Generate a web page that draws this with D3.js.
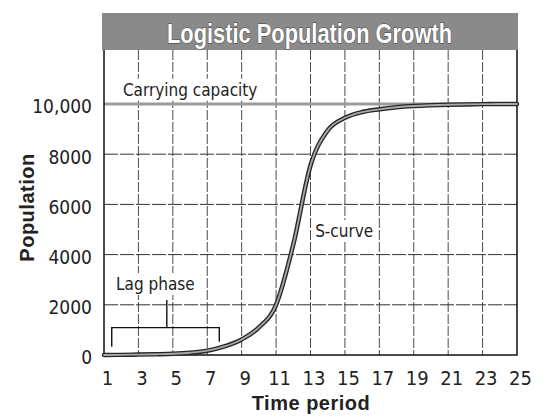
<!DOCTYPE html>
<html>
<head>
<meta charset="utf-8">
<script src="https://cdn.jsdelivr.net/npm/d3@7"></script>
<style>
  body { margin: 0; background: #fff; }
  svg { display: block; }
</style>
</head>
<body>
<div class="chart"></div>
<script>
(function() {

  // Chart Data
  var timePeriods = [1, 2, 3, 4, 5, 6, 7, 8, 9, 10, 11, 12, 13, 14, 15, 16, 17, 18, 19, 20, 21, 22, 23, 24, 25];
  var population = [0, 5, 15, 30, 50, 90, 170, 340, 620, 1100, 2000, 4400, 7550, 8950, 9450, 9680, 9790, 9870, 9920, 9950, 9970, 9985, 9995, 10000, 10000];
  var xTickValues = [1, 3, 5, 7, 9, 11, 13, 15, 17, 19, 21, 23, 25];
  var yTickValues = [0, 2000, 4000, 6000, 8000, 10000];
  var carryingCapacity = 10000;

  // Labels
  var title = "Logistic Population Growth";
  var xTitle = "Time period";
  var yTitle = "Population";
  var notes = [
    {text: "Carrying capacity", t: 2.1, p: 10330},
    {text: "Lag phase", t: 1.7, p: 2590},
    {text: "S-curve", t: 13.27, p: 4700}
  ];
  // lag phase bracket, in data units
  var lagBracket = {t0: 1.45, t1: 7.7, top: 1090, left: 330, right: 530, mid: 4.65, tick: 2190};

  // Design Variables
  var width = 543;
  var height = 417;
  var plot = {left: 104, right: 517, top: 50, bottom: 355};
  var thinFont = "'Liberation Sans Narrow', 'DejaVu Sans Condensed', 'Liberation Sans', sans-serif";
  var boldFont = "'Liberation Sans', Arial, sans-serif";
  var ink = "#222";

  // Scales
  var x = d3.scaleLinear()
    .domain([1, 25])
    .range([plot.left, plot.right]);

  var y = d3.scaleLinear()
    .domain([0, 10000])
    .range([plot.bottom, 104]);

  var svg = d3.select(".chart").append("svg")
      .attr("width", width)
      .attr("height", height);

  // Title bar
  svg.append("rect")
      .attr("x", 102)
      .attr("y", 13)
      .attr("width", 416)
      .attr("height", 37)
      .attr("fill", "#8a8a8a");

  svg.append("text")
      .attr("x", 167)
      .attr("y", 43)
      .attr("font-family", boldFont)
      .attr("font-weight", "bold")
      .attr("font-size", 27)
      .attr("textLength", 285)
      .attr("lengthAdjust", "spacingAndGlyphs")
      .attr("fill", "#fff")
      .attr("stroke", "#444")
      .attr("stroke-width", 1)
      .attr("paint-order", "stroke")
      .text(title);

  // Grid
  var grid = svg.append("g").attr("class", "grid");

  grid.selectAll(".vline")
      .data(xTickValues.filter(function(d) { return d > 1 && d < 25; }))
      .enter()
      .append("line")
      .attr("class", "vline")
      .attr("x1", function(d) { return x(d); })
      .attr("x2", function(d) { return x(d); })
      .attr("y1", plot.top)
      .attr("y2", plot.bottom)
      .attr("stroke", "#4a4a4a")
      .attr("stroke-width", 1)
      .attr("stroke-dasharray", "10,2");

  grid.selectAll(".hline")
      .data(yTickValues.filter(function(d) { return d > 0 && d < carryingCapacity; }))
      .enter()
      .append("line")
      .attr("class", "hline")
      .attr("x1", plot.left)
      .attr("x2", plot.right)
      .attr("y1", function(d) { return y(d); })
      .attr("y2", function(d) { return y(d); })
      .attr("stroke", "#333")
      .attr("stroke-width", 1)
      .attr("stroke-dasharray", "14,2");

  // Annotations with white knockout behind them
  var noteGroup = svg.append("g").attr("class", "notes");
  notes.forEach(function(n) {
    var g = noteGroup.append("g");
    var label = g.append("text")
        .attr("x", x(n.t))
        .attr("y", y(n.p))
        .attr("font-family", thinFont)
        .attr("font-size", 17)
        .attr("fill", ink)
        .text(n.text);
    var box = label.node().getBBox();
    g.insert("rect", "text")
        .attr("x", box.x - 2)
        .attr("y", box.y - 1)
        .attr("width", box.width + 4)
        .attr("height", box.height + 2)
        .attr("fill", "#fff");
  });

  // Lag phase bracket
  svg.append("path")
      .attr("d", "M" + x(lagBracket.t0) + "," + y(lagBracket.left) +
                 "V" + y(lagBracket.top) +
                 "H" + x(lagBracket.t1) +
                 "V" + y(lagBracket.right) +
                 "M" + x(lagBracket.mid) + "," + y(lagBracket.top) +
                 "V" + y(lagBracket.tick))
      .attr("fill", "none")
      .attr("stroke", "#111")
      .attr("stroke-width", 1.4);

  // Carrying capacity line
  svg.append("line")
      .attr("x1", plot.left)
      .attr("x2", plot.right)
      .attr("y1", y(carryingCapacity))
      .attr("y2", y(carryingCapacity))
      .attr("stroke", "#9a9a9a")
      .attr("stroke-width", 3);

  // Frame
  svg.append("path")
      .attr("d", "M" + plot.left + "," + plot.top + "V" + plot.bottom + "H" + plot.right + "V" + plot.top)
      .attr("fill", "none")
      .attr("stroke", "#111")
      .attr("stroke-width", 1.5);

  // S-curve
  var line = d3.line()
    .x(function(d, i) { return x(timePeriods[i]); })
    .y(function(d) { return y(d); })
    .curve(d3.curveMonotoneX);

  svg.append("path")
      .datum(population)
      .attr("d", line)
      .attr("fill", "none")
      .attr("stroke", "#262626")
      .attr("stroke-width", 4.5)
      .attr("stroke-linecap", "round");

  svg.append("path")
      .datum(population)
      .attr("d", line)
      .attr("fill", "none")
      .attr("stroke", "#a8a8a8")
      .attr("stroke-width", 1.8)
      .attr("stroke-linecap", "round");

  // Axes
  var xAxis = svg.append("g")
      .attr("transform", "translate(0," + plot.bottom + ")")
      .call(d3.axisBottom(x).tickValues(xTickValues).tickSize(0).tickPadding(16));

  var yAxis = svg.append("g")
      .attr("transform", "translate(" + plot.left + ",0)")
      .call(d3.axisLeft(y).tickValues(yTickValues).tickSize(0).tickPadding(12)
        .tickFormat(function(d) { return d >= 10000 ? d3.format(",")(d) : d; }));

  [xAxis, yAxis].forEach(function(axis) {
    axis.select(".domain").remove();
    axis.selectAll("text")
        .attr("font-family", thinFont)
        .attr("font-size", 20)
        .attr("fill", ink);
  });
  xAxis.selectAll("text").attr("dx", 3);
  yAxis.selectAll("text").attr("dy", "0.47em").attr("font-size", 19);

  // Axis titles
  svg.append("text")
      .attr("x", 311)
      .attr("y", 410)
      .attr("text-anchor", "middle")
      .attr("font-family", boldFont)
      .attr("font-weight", "bold")
      .attr("font-size", 20)
      .attr("letter-spacing", 0.5)
      .attr("fill", ink)
      .text(xTitle);

  svg.append("text")
      .attr("transform", "translate(34,207.5) rotate(-90)")
      .attr("text-anchor", "middle")
      .attr("font-family", boldFont)
      .attr("font-weight", "bold")
      .attr("font-size", 20)
      .attr("letter-spacing", 0.5)
      .attr("fill", ink)
      .text(yTitle);

})();
</script>
</body>
</html>
